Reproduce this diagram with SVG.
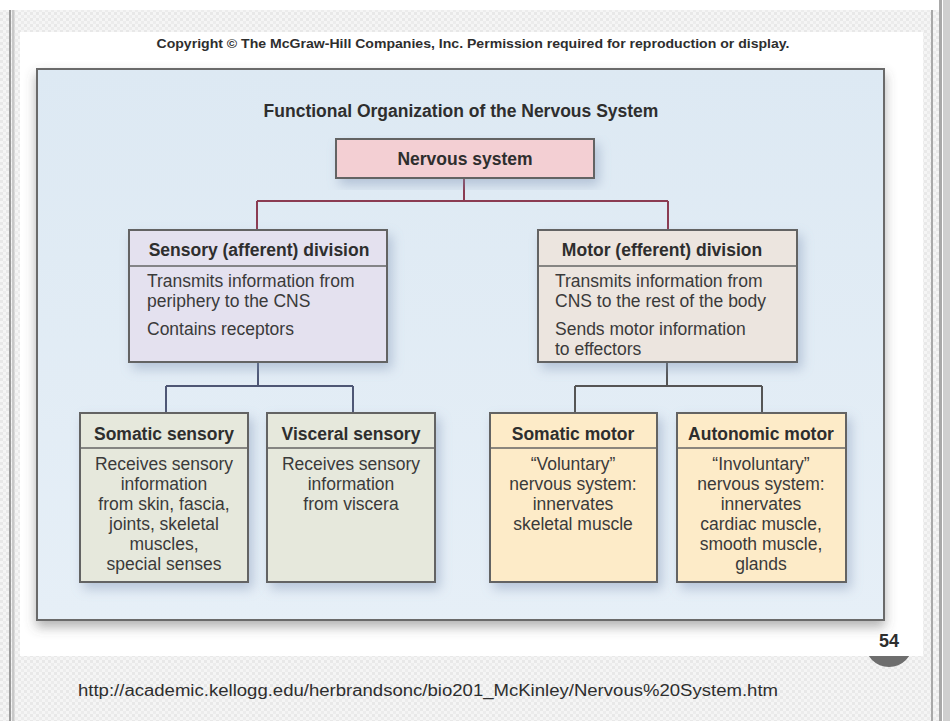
<svg xmlns="http://www.w3.org/2000/svg" width="950" height="721" viewBox="0 0 950 721">
<defs>
<pattern id="chk" width="6" height="6" patternUnits="userSpaceOnUse">
<rect width="6" height="6" fill="#f5f5f5"/>
<rect width="3" height="3" fill="#e8e8e8"/>
<rect x="3" y="3" width="3" height="3" fill="#ececec"/>
</pattern>
<linearGradient id="panelg" x1="0" y1="0" x2="0" y2="1">
<stop offset="0" stop-color="#dde9f3"/>
<stop offset="1" stop-color="#e6eff7"/>
</linearGradient>
<filter id="sh" x="-10%" y="-10%" width="130%" height="140%">
<feDropShadow dx="4" dy="6" stdDeviation="6" flood-color="#7f93b3" flood-opacity="0.45"/>
</filter>
<filter id="psh" x="-5%" y="-5%" width="110%" height="115%">
<feDropShadow dx="0" dy="6" stdDeviation="6" flood-color="#555" flood-opacity="0.45"/>
</filter>
<style>
.t{font-family:"Liberation Sans",Arial,Helvetica,sans-serif;fill:#2e2e2e}
.b{font-weight:bold;font-size:17.5px}
.r{font-size:17.5px;fill:#3a3a3a}
.m{text-anchor:middle}
.box{stroke:#646464;stroke-width:2}
.div{stroke:#646464;stroke-width:1.5}
.c{fill:none;stroke-width:2}
</style>
</defs>

<!-- background -->
<rect x="0" y="0" width="950" height="721" fill="#ffffff"/>
<rect x="0" y="10" width="931" height="711" fill="url(#chk)"/>
<rect x="933" y="10" width="6" height="711" fill="url(#chk)"/>
<rect x="9" y="10" width="2" height="711" fill="#9a9a9a"/>
<rect x="12" y="10" width="2.5" height="711" fill="#c8c8c8"/>
<rect x="931" y="10" width="2" height="711" fill="#a8a8a8"/>
<rect x="939" y="0" width="3" height="721" fill="#a8a8a8"/>
<rect x="943" y="0" width="7" height="721" fill="#cfcfcf"/>
<circle cx="889" cy="643" r="24" fill="#6e6e6e"/>
<rect x="20" y="32" width="903" height="624" fill="#ffffff"/>

<text class="t" x="473" y="48" font-size="12" font-weight="bold" text-anchor="middle" textLength="633" lengthAdjust="spacingAndGlyphs" fill="#333">Copyright © The McGraw-Hill Companies, Inc. Permission required for reproduction or display.</text>

<!-- main panel -->
<rect x="37" y="69" width="847" height="551" fill="url(#panelg)" stroke="#6a6a6a" stroke-width="2" filter="url(#psh)"/>
<text class="t b m" x="461" y="117">Functional Organization of the Nervous System</text>

<!-- connectors -->
<g id="connectors">
<path class="c" stroke="#8b3c52" d="M464,178 V201 M257,201 H668 M257,201 V230 M668,201 V230"/>
<path class="c" stroke="#4e5775" d="M258,362 V386 M166,386 H353 M166,386 V413 M353,386 V413"/>
<path class="c" stroke="#555555" d="M667,362 V386 M575,386 H762 M575,386 V413 M762,386 V413"/>
</g>

<g id="nervous-system">
<rect class="box" x="336" y="139" width="258" height="39" fill="#f3cfd3" filter="url(#sh)"/>
<text class="t b m" x="465" y="165">Nervous system</text>
</g>

<g id="sensory-division">
<rect class="box" x="129" y="230" width="258" height="132" fill="#e4e1ef" filter="url(#sh)"/>
<line class="div" x1="129" y1="266" x2="387" y2="266"/>
<text class="t b m" x="259" y="256">Sensory (afferent) division</text>
<text class="t r" x="147" y="287">Transmits information from</text>
<text class="t r" x="147" y="307">periphery to the CNS</text>
<text class="t r" x="147" y="335">Contains receptors</text>
</g>

<g id="motor-division">
<rect class="box" x="538" y="230" width="259" height="132" fill="#ece5df" filter="url(#sh)"/>
<line class="div" x1="538" y1="266" x2="797" y2="266"/>
<text class="t b m" x="662" y="256">Motor (efferent) division</text>
<text class="t r" x="555" y="287">Transmits information from</text>
<text class="t r" x="555" y="307">CNS to the rest of the body</text>
<text class="t r" x="555" y="335">Sends motor information</text>
<text class="t r" x="555" y="355">to effectors</text>
</g>

<g id="somatic-sensory">
<rect class="box" x="80" y="413" width="168" height="169" fill="#e6e8dc" filter="url(#sh)"/>
<line class="div" x1="80" y1="448" x2="248" y2="448"/>
<text class="t b m" x="164" y="440">Somatic sensory</text>
<text class="t r m" x="164" y="470">Receives sensory</text>
<text class="t r m" x="164" y="490">information</text>
<text class="t r m" x="164" y="510">from skin, fascia,</text>
<text class="t r m" x="164" y="530">joints, skeletal</text>
<text class="t r m" x="164" y="550">muscles,</text>
<text class="t r m" x="164" y="570">special senses</text>
</g>

<g id="visceral-sensory">
<rect class="box" x="267" y="413" width="168" height="169" fill="#e6e8dc" filter="url(#sh)"/>
<line class="div" x1="267" y1="448" x2="435" y2="448"/>
<text class="t b m" x="351" y="440">Visceral sensory</text>
<text class="t r m" x="351" y="470">Receives sensory</text>
<text class="t r m" x="351" y="490">information</text>
<text class="t r m" x="351" y="510">from viscera</text>
</g>

<g id="somatic-motor">
<rect class="box" x="490" y="413" width="167" height="169" fill="#fdebc8" filter="url(#sh)"/>
<line class="div" x1="490" y1="448" x2="657" y2="448"/>
<text class="t b m" x="573" y="440">Somatic motor</text>
<text class="t r m" x="573" y="470">“Voluntary”</text>
<text class="t r m" x="573" y="490">nervous system:</text>
<text class="t r m" x="573" y="510">innervates</text>
<text class="t r m" x="573" y="530">skeletal muscle</text>
</g>

<g id="autonomic-motor">
<rect class="box" x="677" y="413" width="169" height="169" fill="#fdebc8" filter="url(#sh)"/>
<line class="div" x1="677" y1="448" x2="846" y2="448"/>
<text class="t b m" x="761" y="440">Autonomic motor</text>
<text class="t r m" x="761" y="470">“Involuntary”</text>
<text class="t r m" x="761" y="490">nervous system:</text>
<text class="t r m" x="761" y="510">innervates</text>
<text class="t r m" x="761" y="530">cardiac muscle,</text>
<text class="t r m" x="761" y="550">smooth muscle,</text>
<text class="t r m" x="761" y="570">glands</text>
</g>

<text class="t" x="889" y="647" font-size="18" font-weight="bold" text-anchor="middle" fill="#111">54</text>
<text class="t" x="78" y="696" font-size="16" textLength="700" lengthAdjust="spacingAndGlyphs" fill="#111">http://academic.kellogg.edu/herbrandsonc/bio201_McKinley/Nervous%20System.htm</text>
</svg>
